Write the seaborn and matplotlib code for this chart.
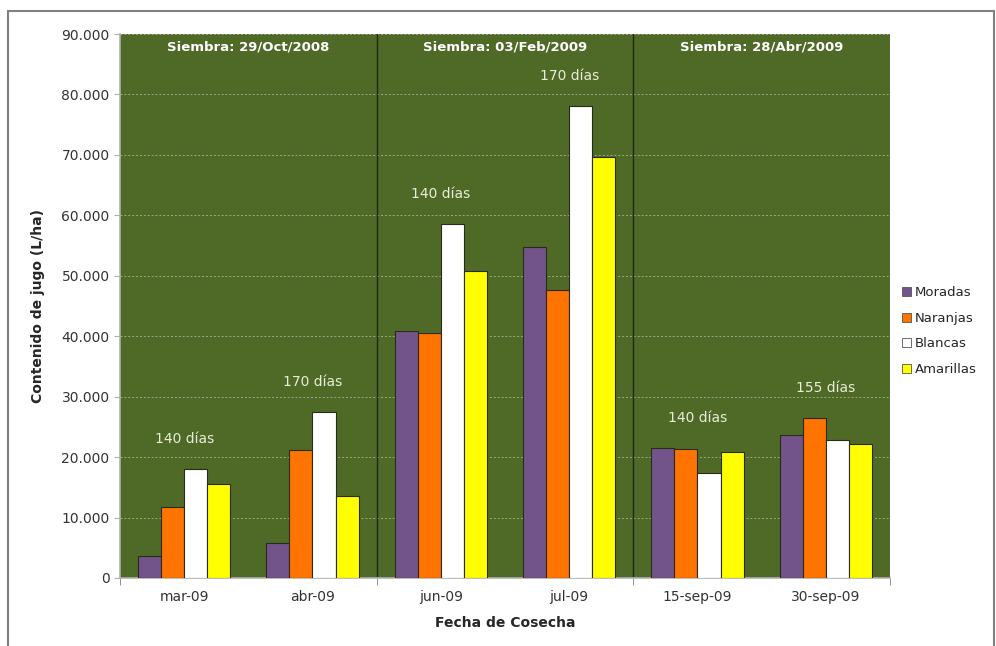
import numpy as np
import pandas as pd
import matplotlib
matplotlib.use("Agg")
import matplotlib.pyplot as plt
import matplotlib.ticker as mticker
from matplotlib.patches import Patch, Rectangle
import seaborn as sns

# datos
fechas = ["mar-09", "abr-09", "jun-09", "jul-09", "15-sep-09", "30-sep-09"]
moradas = [3700, 5800, 40900, 54800, 21500, 23600]
naranjas = [11800, 21200, 40500, 47600, 21400, 26400]
blancas = [18000, 27500, 58500, 78100, 17300, 22800]
amarillas = [15600, 13600, 50800, 69700, 20900, 22200]
dias = ["140 días", "170 días", "140 días", "170 días", "140 días", "155 días"]
siembras = ["Siembra: 29/Oct/2008", "Siembra: 03/Feb/2009", "Siembra: 28/Abr/2009"]

variedades = ["Moradas", "Naranjas", "Blancas", "Amarillas"]
colores = ["#73548A", "#FF7300", "#FFFFFF", "#FFFF00"]

df = pd.DataFrame({"Fecha": fechas * 4,
                   "Variedad": np.repeat(variedades, len(fechas)),
                   "Jugo": moradas + naranjas + blancas + amarillas})

sns.set_style("white")
plt.rcParams['font.family'] = ['DejaVu Sans']

fig = plt.figure(figsize=(9.96, 6.46), dpi=100)
ax = fig.add_axes([0.1205, 0.1053, 0.773, 0.842])
ax.set_facecolor("#4F6A27")

sns.barplot(data=df, x="Fecha", y="Jugo", hue="Variedad", order=fechas,
            hue_order=variedades, palette=colores, width=0.72,
            edgecolor="#2a2a1a", linewidth=0.8, saturation=1, ax=ax,
            legend=False, zorder=3)

ax.set_ylim(0, 90000)
ax.set_xlim(-0.5, len(fechas) - 0.5)
ax.yaxis.set_major_locator(mticker.MultipleLocator(10000))
ax.yaxis.set_major_formatter(mticker.FuncFormatter(
    lambda v, p: f"{int(v):,}".replace(",", ".")))
ax.grid(axis="y", color="#9aa88a", linestyle=(0, (2, 2)), linewidth=0.7, zorder=1)
ax.set_axisbelow(True)

# separadores de siembra
for sep in [1.5, 3.5]:
    ax.axvline(sep, color="#1f2a10", linewidth=1.0, zorder=2)

for i, s in enumerate(siembras):
    ax.text(2 * i + 0.5, 89000, s, ha="center", va="top", color="white",
            fontsize=9.5, fontweight="bold", zorder=5)

tops = [max(v) for v in zip(moradas, naranjas, blancas, amarillas)]
for i, (d, t) in enumerate(zip(dias, tops)):
    ax.text(i, t + 5000, d, ha="center", va="center", color="#e8ecd8",
            fontsize=10, zorder=5)

for sp in ["top", "right"]:
    ax.spines[sp].set_visible(False)
for sp in ["left", "bottom"]:
    ax.spines[sp].set_color("#b0b0b0")
    ax.spines[sp].set_linewidth(1.2)

ax.tick_params(axis="y", which="major", length=4, color="#b0b0b0",
               labelsize=10, labelcolor="#333333", left=True)
ax.tick_params(axis="x", which="major", length=0, labelsize=10,
               labelcolor="#333333", pad=9)
ax.set_xticks([-0.5, 1.5, 3.5, 5.5], minor=True)
ax.tick_params(axis="x", which="minor", length=5, color="#808080", bottom=True)

ax.set_xlabel("Fecha de Cosecha", fontsize=10, fontweight="bold", labelpad=8)
ax.set_ylabel("Contenido de jugo (L/ha)", fontsize=10, fontweight="bold", labelpad=12)

handles = [Patch(facecolor=c, edgecolor="#555555", linewidth=0.6) for c in colores]
fig.legend(handles, variedades, loc="upper left", bbox_to_anchor=(0.9, 0.565),
           frameon=False, fontsize=9.5, handlelength=0.7, handleheight=0.7,
           handletextpad=0.3, labelspacing=0.95, borderaxespad=0)

# marco exterior
fig.add_artist(Rectangle((0.008, -0.05), 0.99, 1.033, transform=fig.transFigure,
                         fill=False, edgecolor="#808080", linewidth=1.5))

fig.savefig("out.png", dpi=100)
